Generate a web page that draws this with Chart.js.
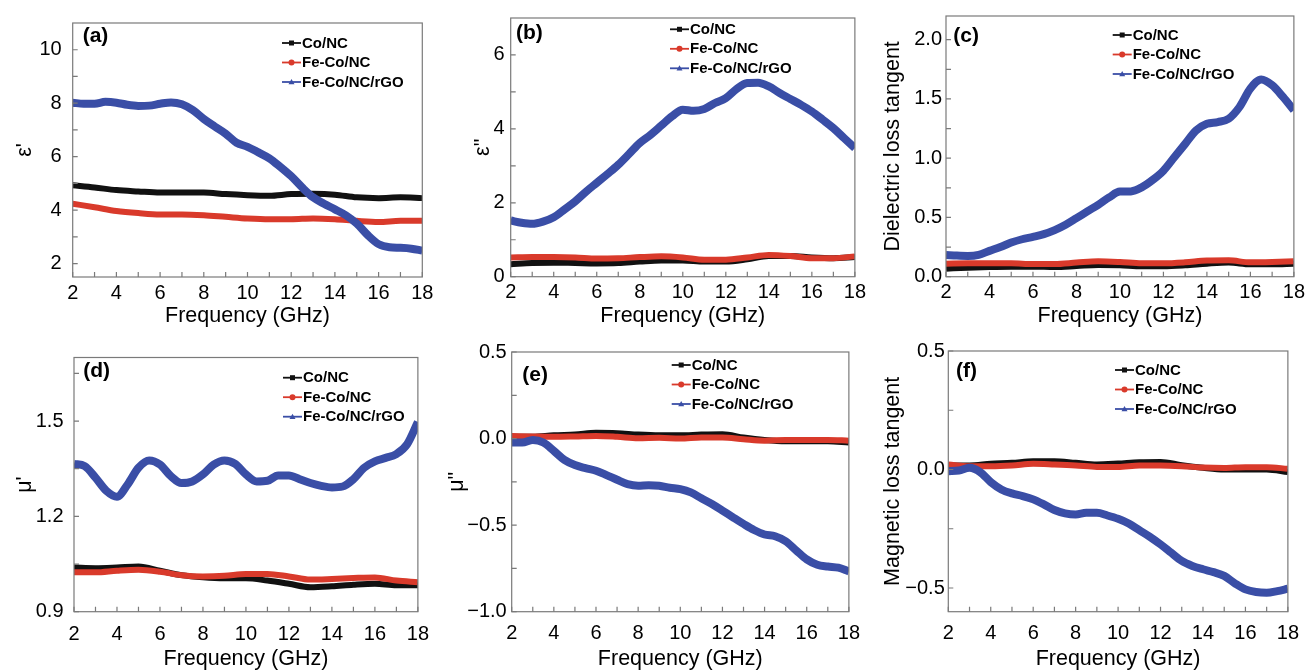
<!DOCTYPE html>
<html>
<head>
<meta charset="utf-8">
<script src="https://cdn.jsdelivr.net/npm/chart.js@4.4.1/dist/chart.umd.min.js"></script>
<style>
  html, body { margin: 0; padding: 0; background: #fff; }
  body { width: 1309px; height: 670px; position: relative; overflow: hidden; }
  canvas { position: absolute; }
</style>
</head>
<body>
<canvas id="pa" width="440" height="335" style="left:0;top:0"></canvas>
<canvas id="pb" width="430" height="335" style="left:440px;top:0"></canvas>
<canvas id="pc" width="439" height="335" style="left:870px;top:0"></canvas>
<canvas id="pd" width="440" height="335" style="left:0;top:335px"></canvas>
<canvas id="pe" width="430" height="335" style="left:440px;top:335px"></canvas>
<canvas id="pf" width="439" height="335" style="left:870px;top:335px"></canvas>
<script>
// ---- data ----
const seriesNames = ['Co/NC', 'Fe-Co/NC', 'Fe-Co/NC/rGO'];

// blue curves sampled every 0.5 GHz, black/red every 1 GHz
const freqFine = [2, 2.5, 3, 3.5, 4, 4.5, 5, 5.5, 6, 6.5, 7, 7.5, 8, 8.5, 9, 9.5, 10,
                  10.5, 11, 11.5, 12, 12.5, 13, 13.5, 14, 14.5, 15, 15.5, 16, 16.5, 17, 17.5, 18];
const freqCoarse = [2, 3, 4, 5, 6, 7, 8, 9, 10, 11, 12, 13, 14, 15, 16, 17, 18];

const xMajor = [2, 4, 6, 8, 10, 12, 14, 16, 18];
const xMinor = [3, 5, 7, 9, 11, 13, 15, 17];

// (a) real permittivity
const aCo = [4.93, 4.85, 4.75, 4.70, 4.66, 4.66, 4.66, 4.60, 4.56, 4.54, 4.60, 4.61, 4.58, 4.48, 4.45, 4.48, 4.45];
const aFeCo = [4.24, 4.11, 3.97, 3.89, 3.84, 3.84, 3.81, 3.75, 3.69, 3.66, 3.66, 3.69, 3.66, 3.60, 3.56, 3.60, 3.60];
const aRgo = [8.02, 7.98, 7.98, 8.05, 8.02, 7.94, 7.90, 7.91, 7.98, 8.03, 7.96, 7.74, 7.41, 7.13, 6.86, 6.52, 6.37,
              6.16, 5.94, 5.62, 5.27, 4.85, 4.48, 4.24, 4.03, 3.81, 3.50, 3.07, 2.73, 2.61, 2.59, 2.56, 2.49];
const aMajor = [2, 4, 6, 8, 10];
const aMinor = [3, 5, 7, 9];

// (b) imaginary permittivity
const bCo = [0.34, 0.37, 0.38, 0.37, 0.36, 0.37, 0.41, 0.44, 0.44, 0.41, 0.41, 0.47, 0.56, 0.56, 0.52, 0.50, 0.53];
const bFeCo = [0.52, 0.53, 0.53, 0.52, 0.49, 0.50, 0.53, 0.55, 0.52, 0.46, 0.46, 0.52, 0.59, 0.56, 0.50, 0.50, 0.55];
const bRgo = [1.52, 1.46, 1.43, 1.49, 1.61, 1.82, 2.04, 2.30, 2.54, 2.78, 3.03, 3.32, 3.62, 3.84, 4.09, 4.34, 4.52,
              4.49, 4.54, 4.70, 4.83, 5.08, 5.24, 5.25, 5.15, 4.97, 4.81, 4.65, 4.47, 4.25, 4.02, 3.75, 3.48];
const bMajor = [0, 2, 4, 6];
const bMinor = [1, 3, 5];

// (c) dielectric loss tangent
const cCo = [0.068, 0.076, 0.082, 0.085, 0.085, 0.082, 0.090, 0.099, 0.096, 0.088, 0.088, 0.096, 0.110, 0.119, 0.105, 0.105, 0.110];
const cFeCo = [0.110, 0.113, 0.113, 0.113, 0.107, 0.107, 0.119, 0.130, 0.124, 0.113, 0.113, 0.121, 0.136, 0.138, 0.121, 0.124, 0.130];
const cRgo = [0.184, 0.178, 0.175, 0.184, 0.218, 0.250, 0.288, 0.316, 0.336, 0.359, 0.393, 0.438, 0.494, 0.551, 0.607, 0.669, 0.718,
              0.720, 0.754, 0.816, 0.895, 1.008, 1.121, 1.234, 1.290, 1.305, 1.333, 1.432, 1.588, 1.664, 1.616, 1.517, 1.404];
const cMajor = [0, 0.5, 1, 1.5, 2];
const cMinor = [0.25, 0.75, 1.25, 1.75];

// (d) real permeability
const dCo = [1.039, 1.037, 1.039, 1.042, 1.029, 1.015, 1.008, 1.005, 1.005, 0.998, 0.988, 0.977, 0.980, 0.985, 0.988, 0.983, 0.983];
const dFeCo = [1.024, 1.024, 1.029, 1.032, 1.026, 1.015, 1.011, 1.013, 1.019, 1.019, 1.011, 1.001, 1.003, 1.006, 1.008, 0.998, 0.993];
const dRgo = [1.365, 1.358, 1.322, 1.281, 1.262, 1.301, 1.353, 1.376, 1.363, 1.327, 1.305, 1.310, 1.332, 1.363, 1.376, 1.365, 1.332,
              1.310, 1.312, 1.329, 1.329, 1.317, 1.305, 1.296, 1.291, 1.294, 1.317, 1.353, 1.373, 1.384, 1.396, 1.427, 1.497];
const dMajor = [0.9, 1.2, 1.5];
const dMinor = [1.05, 1.35, 1.65];

// (e) imaginary permeability
const eCo = [0.010, 0.010, 0.019, 0.023, 0.033, 0.031, 0.023, 0.019, 0.019, 0.023, 0.025, 0.006, -0.008, -0.015, -0.015, -0.015, -0.023];
const eFeCo = [0.015, 0.012, 0.010, 0.012, 0.015, 0.010, 0.002, 0.004, 0.000, 0.006, 0.006, -0.004, -0.012, -0.008, -0.008, -0.008, -0.012];
const eRgo = [-0.023, -0.023, -0.008, -0.023, -0.071, -0.123, -0.153, -0.171, -0.186, -0.211, -0.238, -0.263, -0.272, -0.269, -0.272, -0.284, -0.292,
              -0.311, -0.345, -0.378, -0.416, -0.455, -0.493, -0.528, -0.554, -0.564, -0.593, -0.646, -0.698, -0.729, -0.739, -0.746, -0.767];
const eMajor = [-1, -0.5, 0, 0.5];
const eMinor = [-0.75, -0.25, 0.25];

// (f) magnetic loss tangent
const fCo = [0.017, 0.017, 0.024, 0.028, 0.035, 0.035, 0.028, 0.021, 0.025, 0.031, 0.032, 0.018, 0.007, 0.000, 0.000, 0.000, -0.011];
const fFeCo = [0.021, 0.014, 0.014, 0.017, 0.024, 0.021, 0.017, 0.011, 0.011, 0.017, 0.017, 0.014, 0.008, 0.006, 0.010, 0.010, 0.003];
const fRgo = [-0.007, -0.004, 0.007, -0.011, -0.053, -0.084, -0.101, -0.112, -0.126, -0.147, -0.171, -0.185, -0.190, -0.183, -0.183, -0.194, -0.208,
              -0.228, -0.256, -0.284, -0.316, -0.351, -0.386, -0.407, -0.421, -0.433, -0.449, -0.480, -0.506, -0.517, -0.520, -0.513, -0.503];
const fMajor = [-0.5, 0, 0.5];
const fMinor = [-0.25, 0.25];

// ---- styling ----
const FONT = '"Liberation Sans", Arial, Helvetica, sans-serif';
const colors = ['#111111', '#d93a2b', '#3a4ea6'];
const widths = [6, 6, 8];
const frameColor = '#7a7a7a';

Chart.defaults.font.family = FONT;
Chart.defaults.color = '#000';

const near = (a, b) => Math.abs(a - b) < 1e-6;
const fmtInt = v => String(Math.round(v));
const fmtOne = v => (v < -1e-9 ? '\u2212' : '') + Math.abs(v).toFixed(1);

// frame, inward ticks, panel letter and the in-plot legend
const panelDeco = {
  id: 'panelDeco',
  afterDatasetsDraw(chart, args, o) {
    const { ctx, chartArea: a, scales: { x, y } } = chart;
    ctx.save();
    ctx.strokeStyle = frameColor;
    ctx.lineWidth = 1.2;
    ctx.strokeRect(a.left, a.top, a.width, a.height);
    ctx.beginPath();
    x.ticks.forEach(t => {
      const px = x.getPixelForValue(t.value);
      ctx.moveTo(px, a.bottom); ctx.lineTo(px, a.bottom - 5);
    });
    y.ticks.forEach(t => {
      const py = y.getPixelForValue(t.value);
      ctx.moveTo(a.left, py); ctx.lineTo(a.left + 5, py);
    });
    ctx.stroke();

    ctx.fillStyle = '#000';
    ctx.textBaseline = 'middle';
    ctx.textAlign = 'left';
    ctx.font = 'bold 21px ' + FONT;
    ctx.fillText(o.label, o.labelX, o.labelY);

    ctx.font = 'bold 15px ' + FONT;
    chart.data.datasets.forEach((ds, i) => {
      const ly = o.legendY + i * 19.5;
      const lx = o.legendX;
      ctx.strokeStyle = ds.borderColor;
      ctx.fillStyle = ds.borderColor;
      ctx.lineWidth = 1.8;
      ctx.beginPath(); ctx.moveTo(lx, ly); ctx.lineTo(lx + 19, ly); ctx.stroke();
      const cx = lx + 9.5;
      ctx.beginPath();
      if (i === 0) ctx.rect(cx - 2.5, ly - 2.5, 5, 5);
      else if (i === 1) ctx.arc(cx, ly, 3, 0, Math.PI * 2);
      else { ctx.moveTo(cx, ly - 3); ctx.lineTo(cx + 3, ly + 2.2); ctx.lineTo(cx - 3, ly + 2.2); ctx.closePath(); }
      ctx.fill();
      ctx.fillStyle = '#000';
      ctx.fillText(ds.label, lx + 20, ly + 0.5);
    });
    ctx.restore();
  }
};

function pts(xs, ys) { return xs.map((v, i) => ({ x: v, y: ys[i] })); }

function makePanel(id, p) {
  const lists = [p.co, p.feco, p.rgo];
  const xs = [freqCoarse, freqCoarse, freqFine];
  const datasets = lists.map((vals, i) => ({
    label: seriesNames[i],
    data: pts(xs[i], vals),
    borderColor: colors[i],
    backgroundColor: colors[i],
    borderWidth: widths[i],
    pointRadius: 0,
    cubicInterpolationMode: 'monotone',
    clip: 0,
    order: 2 - i
  }));
  const yTicks = p.major.concat(p.minor).sort((a, b) => a - b);
  const xTicks = xMajor.concat(xMinor).sort((a, b) => a - b);
  return new Chart(document.getElementById(id), {
    type: 'line',
    data: { datasets },
    options: {
      responsive: false,
      animation: false,
      events: [],
      layout: { padding: { top: 16, right: p.padRight, bottom: 0, left: 0 } },
      plugins: {
        legend: { display: false },
        tooltip: { enabled: false },
        panelDeco: { label: p.label, labelX: p.labelX, labelY: p.labelY, legendX: p.legendX, legendY: p.legendY }
      },
      scales: {
        x: {
          type: 'linear', min: 2, max: 18,
          grid: { display: false, drawTicks: false },
          border: { display: false },
          afterBuildTicks: s => { s.ticks = xTicks.map(v => ({ value: v })); },
          afterFit: s => { s.height = p.xAxisH; },
          ticks: {
            autoSkip: false, maxRotation: 0, padding: p.xTickPad,
            font: { size: 20 },
            callback: v => xMajor.some(m => near(m, v)) ? fmtInt(v) : ''
          },
          title: {
            display: true, text: 'Frequency (GHz)',
            font: { size: 21.5, lineHeight: 1 },
            padding: { top: 0, bottom: p.xTitlePad }
          }
        },
        y: {
          type: 'linear', min: p.min, max: p.max,
          grid: { display: false, drawTicks: false },
          border: { display: false },
          afterBuildTicks: s => { s.ticks = yTicks.map(v => ({ value: v })); },
          afterFit: s => { s.width = p.yAxisW; },
          ticks: {
            autoSkip: false, padding: p.yTickPad,
            font: { size: 20 },
            callback: v => p.major.some(m => near(m, v)) ? p.fmt(v) : ''
          },
          title: {
            display: true, text: p.yTitle,
            font: { size: 21.5, lineHeight: 1 },
            padding: { top: p.yTitlePad, bottom: 0 }
          }
        }
      }
    },
    plugins: [panelDeco]
  });
}

makePanel('pa', { co: aCo, feco: aFeCo, rgo: aRgo, major: aMajor, minor: aMinor, min: 1.5, max: 11, fmt: fmtInt,
  yTitle: "\u03b5'", yTitlePad: 14, yAxisW: 72.7, yTickPad: 11, padRight: 17.7, xAxisH: 58, xTickPad: 4, xTitlePad: 8.5,
  label: '(a)', labelX: 82.7, labelY: 36.7, legendX: 282, legendY: 43 });
makePanel('pb', { co: bCo, feco: bFeCo, rgo: bRgo, major: bMajor, minor: bMinor, min: 0, max: 7, fmt: fmtInt,
  yTitle: '\u03b5"', yTitlePad: 32, yAxisW: 70.7, yTickPad: 6, padRight: 11, xAxisH: 58.3, xTickPad: 4, xTitlePad: 8.5,
  label: '(b)', labelX: 76, labelY: 33.3, legendX: 230, legendY: 29.3 });
makePanel('pc', { co: cCo, feco: cFeCo, rgo: cRgo, major: cMajor, minor: cMinor, min: 0, max: 2.2, fmt: fmtOne,
  yTitle: 'Dielectric loss tangent', yTitlePad: 12.5, yAxisW: 76, yTickPad: 4, padRight: 14, xAxisH: 58.3, xTickPad: 4, xTitlePad: 8.5,
  label: '(c)', labelX: 83.3, labelY: 36.7, legendX: 242.7, legendY: 35 });
makePanel('pd', { co: dCo, feco: dFeCo, rgo: dRgo, major: dMajor, minor: dMinor, min: 0.9, max: 1.7, fmt: fmtOne,
  yTitle: "\u03bc'", yTitlePad: 14, yAxisW: 74, yTickPad: 10.5, padRight: 16.7, xAxisH: 58.3, xTickPad: 11, xTitlePad: 0.5,
  label: '(d)', labelX: 83.3, labelY: 36.7, legendX: 283, legendY: 42.7 });
makePanel('pe', { co: eCo, feco: eFeCo, rgo: eRgo, major: eMajor, minor: eMinor, min: -1, max: 0.5, fmt: fmtOne,
  yTitle: '\u03bc"', yTitlePad: 6, yAxisW: 71.7, yTickPad: 5, padRight: 11, xAxisH: 58.3, xTickPad: 10, xTitlePad: 0.5,
  label: '(e)', labelX: 82.3, labelY: 40, legendX: 231.7, legendY: 30 });
makePanel('pf', { co: fCo, feco: fFeCo, rgo: fRgo, major: fMajor, minor: fMinor, min: -0.6, max: 0.5, fmt: fmtOne,
  yTitle: 'Magnetic loss tangent', yTitlePad: 12.5, yAxisW: 78.3, yTickPad: 3.5, padRight: 12.3, xAxisH: 58.3, xTickPad: 10, xTitlePad: 0.5,
  label: '(f)', labelX: 86, labelY: 36, legendX: 245, legendY: 35 });
</script>
</body>
</html>
